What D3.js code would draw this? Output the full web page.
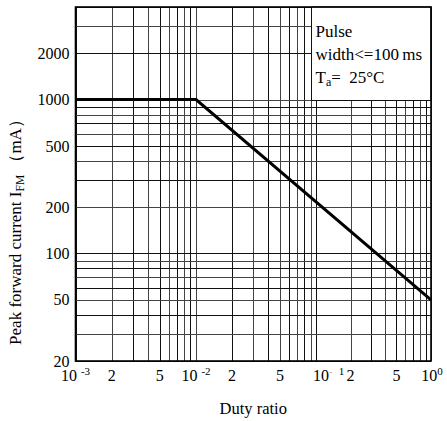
<!DOCTYPE html>
<html>
<head>
<meta charset="utf-8">
<script src="https://cdn.jsdelivr.net/npm/d3@7/dist/d3.min.js"></script>
<style>
  body { margin: 0; background: #fff; }
  svg { display: block; font-family: "Liberation Serif", "Times New Roman", serif; }
</style>
</head>
<body>
<svg id="chart" width="447" height="421"></svg>
<script>
// duty ratio vs. peak forward current
const dutyRatio = [0.001, 0.01, 1]
const peakCurrent = [1000, 1000, 50]

const yLabelValues = [20, 50, 100, 200, 500, 1000, 2000]
const xLabelValues = [0.002, 0.005, 0.02, 0.05, 0.2, 0.5]
const xDecades = [
  { value: 0.001, exp: '-3' },
  { value: 0.01, exp: '-2' },
  { value: 0.1, exp: '1' },
  { value: 1, exp: '0' }
]

const legendLines = ['Pulse', 'width<=100\u2009ms']

const svg = d3.select('#chart')

// the scan's decades are not all the same width, so map each decade separately
const x = d3.scaleLog()
  .domain([0.001, 0.01, 0.1, 1])
  .range([75.5, 196, 316, 431])

const y = d3.scaleLog()
  .domain([20, 4000])
  .range([361, 7])

const plotLeft = x(0.001)
const plotRight = x(1)
const plotTop = y(4000)
const plotBottom = y(20)

// grid
const grid = svg.append('g').attr('class', 'grid')

grid.selectAll('line.v')
  .data(x.ticks())
  .enter()
  .append('line')
  .attr('class', 'v')
  .attr('x1', d => Math.round(x(d)) + 0.5)
  .attr('x2', d => Math.round(x(d)) + 0.5)
  .attr('y1', plotTop)
  .attr('y2', plotBottom)
  .attr('stroke', (d, i) => i % 2 ? '#444' : '#111')
  .attr('stroke-width', 1)

grid.selectAll('line.h')
  .data(y.ticks())
  .enter()
  .append('line')
  .attr('class', 'h')
  .attr('x1', plotLeft)
  .attr('x2', plotRight)
  .attr('y1', d => Math.round(y(d)) + 0.5)
  .attr('y2', d => Math.round(y(d)) + 0.5)
  .attr('stroke', (d, i) => i % 2 ? '#444' : '#111')
  .attr('stroke-width', 1)

// legend box sits over the grid in the top right corner
const boxLeft = Math.round(x(0.09)) + 0.5
const boxBottom = Math.round(y(1000)) + 0.5
svg.append('rect')
  .attr('x', boxLeft)
  .attr('y', plotTop)
  .attr('width', plotRight - boxLeft)
  .attr('height', boxBottom - plotTop)
  .attr('fill', '#fff')
  .attr('stroke', '#111')
  .attr('stroke-width', 1)

// frame
svg.append('rect')
  .attr('x', plotLeft)
  .attr('y', plotTop)
  .attr('width', plotRight - plotLeft)
  .attr('height', plotBottom - plotTop)
  .attr('fill', 'none')
  .attr('stroke', '#000')
  .attr('stroke-width', 1.6)

// curve
const line = d3.line()
  .x(d => x(d[0]))
  .y(d => y(d[1]))

svg.append('path')
  .datum(d3.zip(dutyRatio, peakCurrent))
  .attr('d', line)
  .attr('fill', 'none')
  .attr('stroke', '#000')
  .attr('stroke-width', 3)

// y labels
svg.append('g')
  .selectAll('text')
  .data(yLabelValues)
  .enter()
  .append('text')
  .attr('x', plotLeft - 6)
  .attr('y', d => y(d))
  .attr('dy', '0.35em')
  .attr('text-anchor', 'end')
  .attr('font-size', 16)
  .text(d => d)

// x labels
const xLabelY = plotBottom + 20
svg.append('g')
  .selectAll('text')
  .data(xLabelValues)
  .enter()
  .append('text')
  .attr('x', d => x(d))
  .attr('y', xLabelY)
  .attr('text-anchor', 'middle')
  .attr('font-size', 16)
  .text(d => String(d).replace(/0\.0*/, ''))

const decadeLabels = svg.append('g')
  .selectAll('text')
  .data(xDecades)
  .enter()
  .append('text')
  .attr('x', d => d.value === 0.1 ? x(d.value) - 3 : x(d.value) + (d.value === 1 ? 1 : 0))
  .attr('y', xLabelY)
  .attr('text-anchor', d => d.value === 0.1 ? 'start' : 'middle')
  .attr('font-size', 16)

decadeLabels.append('tspan').text('10')
decadeLabels.each(function (d) {
  const t = d3.select(this)
  if (d.value === 0.1) {
    // the scan shows a stray pink minus and a gap before the exponent
    t.append('tspan').attr('dy', -6).attr('font-size', 11).attr('fill', '#f29a9a').text('-')
    t.append('tspan').attr('dx', 6).attr('font-size', 11).text(d.exp)
  } else if (d.value === 1) {
    t.append('tspan').attr('dy', -6).attr('font-size', 11).text(d.exp)
  } else {
    t.append('tspan').attr('dy', -6).attr('font-size', 11).attr('dx', 4).text(d.exp)
  }
})

// legend text
const legend = svg.append('g')
  .attr('font-size', 17)

legend.selectAll('text.line')
  .data(legendLines)
  .enter()
  .append('text')
  .attr('class', 'line')
  .attr('x', boxLeft + 4)
  .attr('y', (d, i) => 37 + i * 23)
  .text(d => d)

const ta = legend.append('text')
  .attr('x', boxLeft + 4)
  .attr('y', 37 + 2 * 23)
ta.append('tspan').text('T')
ta.append('tspan').attr('dy', 3).attr('font-size', 12).text('a')
ta.append('tspan').attr('dy', -3).text('=\u00a0 25\u00b0C')

// axis titles
svg.append('text')
  .attr('x', (plotLeft + plotRight) / 2)
  .attr('y', 414)
  .attr('text-anchor', 'middle')
  .attr('font-size', 16.5)
  .text('Duty ratio')

const yTitle = svg.append('text')
  .attr('transform', `translate(21, 228) rotate(-90)`)
  .attr('text-anchor', 'middle')
  .attr('font-size', 17)
yTitle.append('tspan').text('Peak forward current I')
yTitle.append('tspan').attr('dy', 3).attr('font-size', 11.5).text('FM')
yTitle.append('tspan').attr('dy', -3).text(' \uff08mA\uff09')
</script>
</body>
</html>
